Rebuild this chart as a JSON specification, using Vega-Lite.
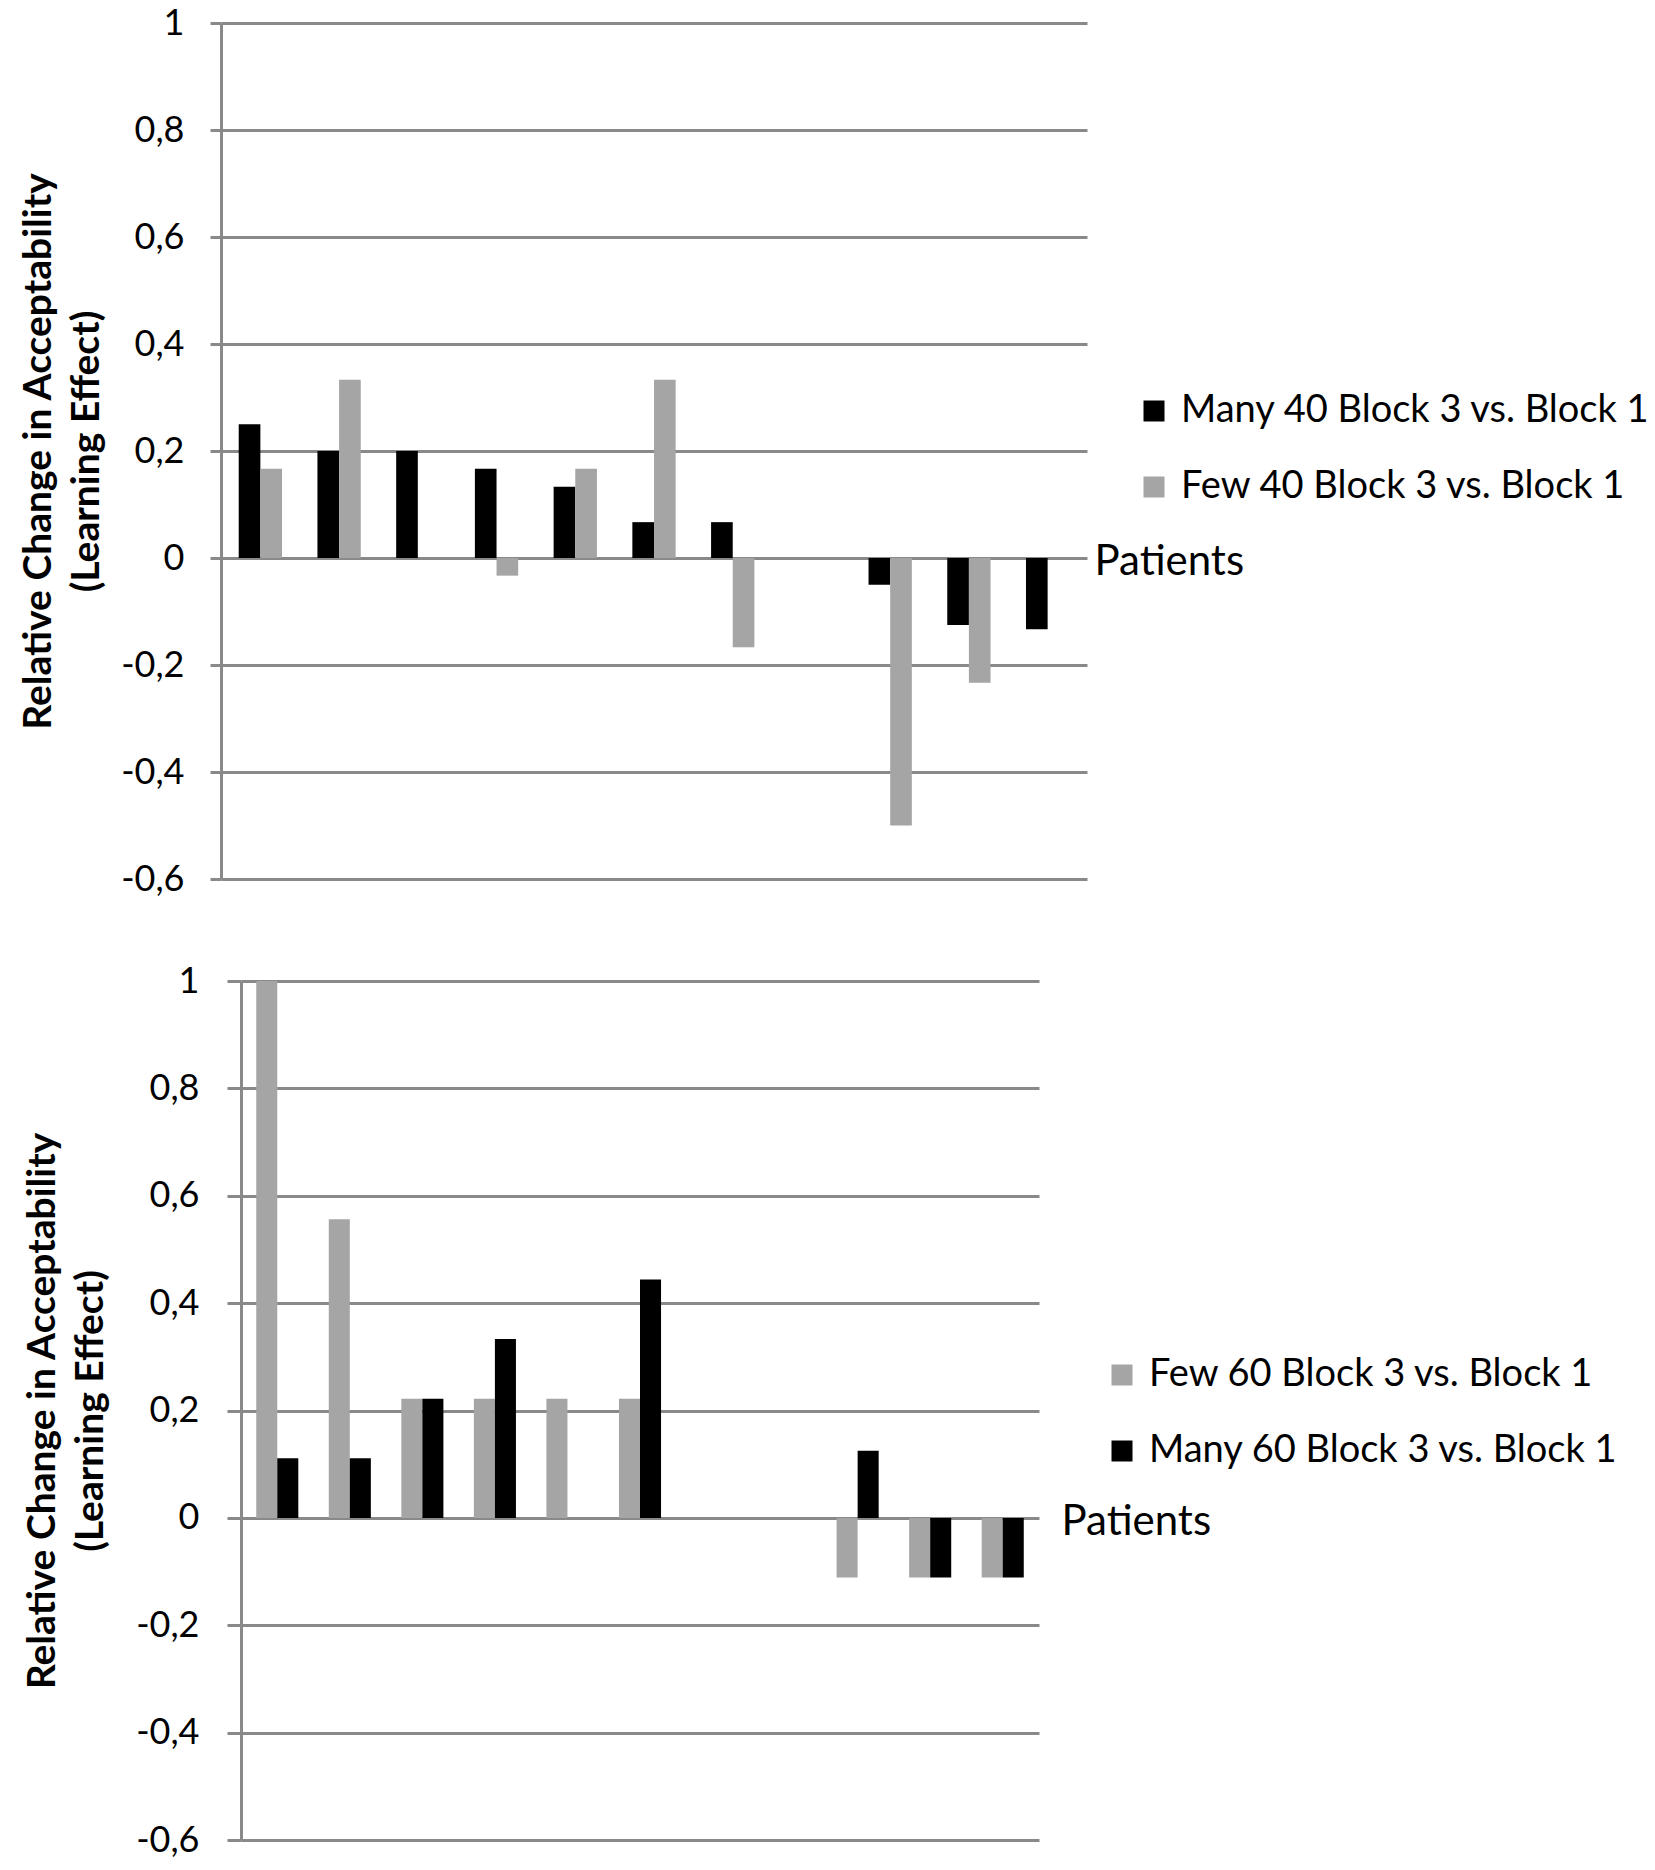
{
  "$schema": "https://vega.github.io/schema/vega-lite/v6.json",
  "padding": {"top": 5, "left": 19, "right": 0, "bottom": 0},
  "background": "white",
  "config": {
    "font": "Lato",
    "view": {"stroke": null},
    "axis": {
      "gridColor": "#898989", "gridWidth": 3, "gridOpacity": 1,
      "domainColor": "#898989", "domainWidth": 3,
      "tickColor": "#898989", "tickWidth": 3,
      "labelColor": "black", "labelFont": "Lato", "labelFontSize": 36,
      "titleColor": "black", "titleFont": "Lato"
    },
    "legend": {
      "orient": "none", "title": null,
      "symbolType": "square", "symbolSize": 441, "symbolStrokeWidth": 0,
      "labelFont": "Lato", "labelFontSize": 38, "labelColor": "black",
      "labelOffset": 8, "labelLimit": 700, "rowPadding": 38
    }
  },
  "datasets": {
    "set40": [
      {"patient": 1, "series": "Many 40 Block 3 vs. Block 1", "value": 0.25},
      {"patient": 1, "series": "Few 40 Block 3 vs. Block 1", "value": 0.167},
      {"patient": 2, "series": "Many 40 Block 3 vs. Block 1", "value": 0.2},
      {"patient": 2, "series": "Few 40 Block 3 vs. Block 1", "value": 0.333},
      {"patient": 3, "series": "Many 40 Block 3 vs. Block 1", "value": 0.2},
      {"patient": 3, "series": "Few 40 Block 3 vs. Block 1", "value": 0},
      {"patient": 4, "series": "Many 40 Block 3 vs. Block 1", "value": 0.167},
      {"patient": 4, "series": "Few 40 Block 3 vs. Block 1", "value": -0.033},
      {"patient": 5, "series": "Many 40 Block 3 vs. Block 1", "value": 0.133},
      {"patient": 5, "series": "Few 40 Block 3 vs. Block 1", "value": 0.167},
      {"patient": 6, "series": "Many 40 Block 3 vs. Block 1", "value": 0.067},
      {"patient": 6, "series": "Few 40 Block 3 vs. Block 1", "value": 0.333},
      {"patient": 7, "series": "Many 40 Block 3 vs. Block 1", "value": 0.067},
      {"patient": 7, "series": "Few 40 Block 3 vs. Block 1", "value": -0.167},
      {"patient": 8, "series": "Many 40 Block 3 vs. Block 1", "value": 0},
      {"patient": 8, "series": "Few 40 Block 3 vs. Block 1", "value": 0},
      {"patient": 9, "series": "Many 40 Block 3 vs. Block 1", "value": -0.05},
      {"patient": 9, "series": "Few 40 Block 3 vs. Block 1", "value": -0.5},
      {"patient": 10, "series": "Many 40 Block 3 vs. Block 1", "value": -0.125},
      {"patient": 10, "series": "Few 40 Block 3 vs. Block 1", "value": -0.233},
      {"patient": 11, "series": "Many 40 Block 3 vs. Block 1", "value": -0.133},
      {"patient": 11, "series": "Few 40 Block 3 vs. Block 1", "value": 0}
    ],
    "set60": [
      {"patient": 1, "series": "Few 60 Block 3 vs. Block 1", "value": 1.0},
      {"patient": 1, "series": "Many 60 Block 3 vs. Block 1", "value": 0.111},
      {"patient": 2, "series": "Few 60 Block 3 vs. Block 1", "value": 0.556},
      {"patient": 2, "series": "Many 60 Block 3 vs. Block 1", "value": 0.111},
      {"patient": 3, "series": "Few 60 Block 3 vs. Block 1", "value": 0.222},
      {"patient": 3, "series": "Many 60 Block 3 vs. Block 1", "value": 0.222},
      {"patient": 4, "series": "Few 60 Block 3 vs. Block 1", "value": 0.222},
      {"patient": 4, "series": "Many 60 Block 3 vs. Block 1", "value": 0.333},
      {"patient": 5, "series": "Few 60 Block 3 vs. Block 1", "value": 0.222},
      {"patient": 5, "series": "Many 60 Block 3 vs. Block 1", "value": 0},
      {"patient": 6, "series": "Few 60 Block 3 vs. Block 1", "value": 0.222},
      {"patient": 6, "series": "Many 60 Block 3 vs. Block 1", "value": 0.444},
      {"patient": 7, "series": "Few 60 Block 3 vs. Block 1", "value": 0},
      {"patient": 7, "series": "Many 60 Block 3 vs. Block 1", "value": 0},
      {"patient": 8, "series": "Few 60 Block 3 vs. Block 1", "value": 0},
      {"patient": 8, "series": "Many 60 Block 3 vs. Block 1", "value": 0},
      {"patient": 9, "series": "Few 60 Block 3 vs. Block 1", "value": -0.111},
      {"patient": 9, "series": "Many 60 Block 3 vs. Block 1", "value": 0.125},
      {"patient": 10, "series": "Few 60 Block 3 vs. Block 1", "value": -0.111},
      {"patient": 10, "series": "Many 60 Block 3 vs. Block 1", "value": -0.111},
      {"patient": 11, "series": "Few 60 Block 3 vs. Block 1", "value": -0.111},
      {"patient": 11, "series": "Many 60 Block 3 vs. Block 1", "value": -0.111}
    ]
  },
  "concat": [
    {
      "data": {"name": "set40"},
      "width": 866,
      "height": 856,
      "mark": {"type": "bar"},
      "encoding": {
        "x": {
          "field": "patient", "type": "ordinal",
          "scale": {"paddingInner": 0.45, "paddingOuter": 0.225},
          "axis": {
            "title": "Patients", "labels": false, "ticks": false, "domain": false, "grid": false,
            "titleAngle": 0, "titleAlign": "left", "titleBaseline": "middle",
            "titleFontSize": 42, "titleFontWeight": "normal",
            "titleX": 873, "titleY": -318
          }
        },
        "xOffset": {
          "field": "series",
          "scale": {"domain": ["Many 40 Block 3 vs. Block 1", "Few 40 Block 3 vs. Block 1"], "paddingInner": 0, "paddingOuter": 0}
        },
        "y": {
          "field": "value", "type": "quantitative",
          "scale": {"domain": [-0.6, 1], "nice": false, "zero": false},
          "axis": {
            "values": [-0.6, -0.4, -0.2, 0, 0.2, 0.4, 0.6, 0.8, 1],
            "labelExpr": "replace(replace(format(datum.value, '.1~f'), '.', ','), '\u2212', '-')",
            "tickSize": 11, "labelPadding": 26,
            "title": ["Relative Change in Acceptability", "(Learning Effect)"],
            "titleFontSize": 39, "titleFontWeight": "bold", "titleLineHeight": 48,
            "titlePadding": 14
          }
        },
        "color": {
          "field": "series", "type": "nominal",
          "scale": {"domain": ["Many 40 Block 3 vs. Block 1", "Few 40 Block 3 vs. Block 1"], "range": ["#000000", "#a5a5a5"]},
          "legend": {"legendX": 914, "legendY": 369}
        }
      }
    },
    {
      "data": {"name": "set60"},
      "width": 798,
      "height": 859,
      "mark": {"type": "bar"},
      "encoding": {
        "x": {
          "field": "patient", "type": "ordinal",
          "scale": {"range": [20, 818], "paddingInner": 0.42, "paddingOuter": 0.21},
          "axis": {
            "title": "Patients", "labels": false, "ticks": false, "domain": false, "grid": false,
            "titleAngle": 0, "titleAlign": "left", "titleBaseline": "middle",
            "titleFontSize": 42, "titleFontWeight": "normal",
            "titleX": 840, "titleY": -319
          }
        },
        "xOffset": {
          "field": "series",
          "scale": {"domain": ["Few 60 Block 3 vs. Block 1", "Many 60 Block 3 vs. Block 1"], "paddingInner": 0, "paddingOuter": 0}
        },
        "y": {
          "field": "value", "type": "quantitative",
          "scale": {"domain": [-0.6, 1], "nice": false, "zero": false},
          "axis": {
            "values": [-0.6, -0.4, -0.2, 0, 0.2, 0.4, 0.6, 0.8, 1],
            "labelExpr": "replace(replace(format(datum.value, '.1~f'), '.', ','), '\u2212', '-')",
            "offset": -20,
            "tickSize": 14, "labelPadding": 28,
            "title": ["Relative Change in Acceptability", "(Learning Effect)"],
            "titleFontSize": 39, "titleFontWeight": "bold", "titleLineHeight": 48,
            "titlePadding": 25
          }
        },
        "color": {
          "field": "series", "type": "nominal",
          "scale": {"domain": ["Few 60 Block 3 vs. Block 1", "Many 60 Block 3 vs. Block 1"], "range": ["#a5a5a5", "#000000"]},
          "legend": {"legendX": 882, "legendY": 375}
        }
      }
    }
  ],
  "columns": 1,
  "spacing": 66,
  "resolve": {
    "scale": {"color": "independent", "x": "independent", "y": "independent", "xOffset": "independent"},
    "legend": {"color": "independent"}
  }
}
